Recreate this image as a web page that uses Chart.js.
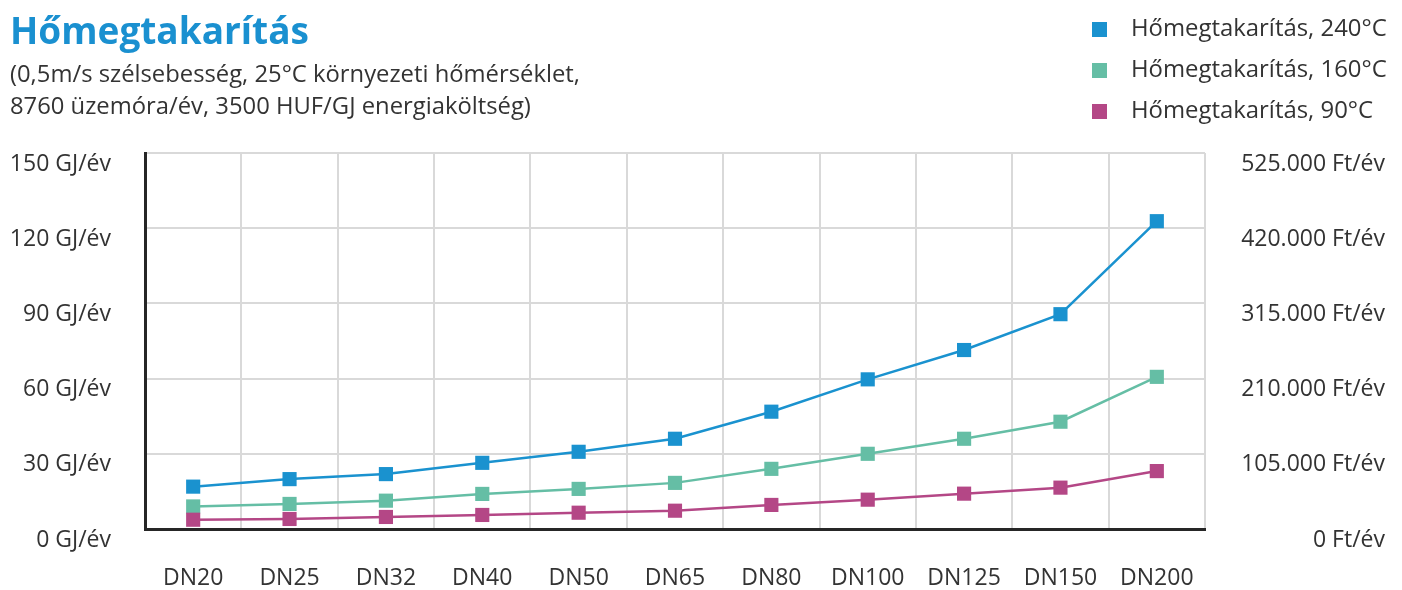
<!DOCTYPE html>
<html>
<head>
<meta charset="utf-8">
<script src="https://cdn.jsdelivr.net/npm/chart.js@4.4.1/dist/chart.umd.min.js"></script>
<style>
  body { margin: 0; background: #fff; font-family: 'Open Sans', sans-serif; color: #333; }
  #wrap { position: relative; width: 1402px; height: 590px; overflow: hidden; }
  #chart-canvas { position: absolute; left: 0; top: 0; }
  .title { position: absolute; left: 10px; top: 8px; font-size: 37px; line-height: 44px; font-weight: 700; color: #1a90d0; }
  .subtitle { position: absolute; left: 10px; top: 57px; font-size: 23.8px; line-height: 32px; color: #333; }
  .legend { position: absolute; left: 1092px; top: 6px; font-size: 23.9px; color: #333; }
  .legend div { height: 41px; line-height: 41px; white-space: nowrap; }
  .legend span { display: inline-block; width: 15px; height: 15px; margin-right: 24px; vertical-align: -1px; }
</style>
</head>
<body>
<div id="wrap">
  <canvas id="chart-canvas"></canvas>
  <div class="title">Hőmegtakarítás</div>
  <div class="subtitle">(0,5m/s szélsebesség, 25°C környezeti hőmérséklet,<br>8760 üzemóra/év, 3500 HUF/GJ energiaköltség)</div>
  <div class="legend" id="legend"></div>
</div>
<script>
// categories (pipe size)
const pipeSizes = ['DN20', 'DN25', 'DN32', 'DN40', 'DN50', 'DN65', 'DN80', 'DN100', 'DN125', 'DN150', 'DN200'];

// heat savings, GJ/év
const saving240 = [16.9, 19.9, 21.9, 26.4, 30.8, 36.0, 46.8, 59.7, 71.4, 85.7, 122.8];
const saving160 = [9.0, 10.0, 11.3, 14.0, 16.0, 18.4, 24.0, 30.0, 36.0, 42.8, 60.7];
const saving90 = [3.7, 4.0, 4.8, 5.6, 6.5, 7.3, 9.6, 11.7, 14.1, 16.5, 23.1];

const seriesLabels = ['Hőmegtakarítás, 240°C', 'Hőmegtakarítás, 160°C', 'Hőmegtakarítás, 90°C'];
const seriesColors = ['#1a92cf', '#65bea5', '#b44786'];

// axis ticks
const gjMax = 150, gjStep = 30;
const ftMax = 525000, ftStep = 105000;

function thousands(v) {
  return String(v).replace(/\B(?=(\d{3})+(?!\d))/g, '.');
}

const legendBox = document.getElementById('legend');
seriesLabels.forEach((label, i) => {
  const row = document.createElement('div');
  row.innerHTML = '<span style="background:' + seriesColors[i] + '"></span>' + label;
  legendBox.appendChild(row);
});

Chart.defaults.font.family = "'Open Sans', sans-serif";
Chart.defaults.font.size = 23;
Chart.defaults.color = '#333';

const canvas = document.getElementById('chart-canvas');
canvas.width = 1402;
canvas.height = 590;

function makeSet(i, data, order) {
  return {
    label: seriesLabels[i],
    data: data,
    yAxisID: 'y',
    borderColor: seriesColors[i],
    backgroundColor: seriesColors[i],
    borderWidth: 2.5,
    pointStyle: 'rect',
    pointRadius: 10,
    pointHoverRadius: 10,
    pointBorderWidth: 0,
    tension: 0,
    order: order,
  };
}

new Chart(canvas, {
  type: 'line',
  data: {
    labels: pipeSizes,
    datasets: [
      makeSet(0, saving240, 3),
      makeSet(1, saving160, 2),
      makeSet(2, saving90, 1),
    ],
  },
  options: {
    responsive: false,
    animation: false,
    layout: { padding: { top: 153, right: 17, bottom: 0, left: 0 } },
    plugins: {
      legend: { display: false },
      tooltip: { enabled: false },
    },
    scales: {
      x: {
        offset: true,
        grid: { offset: true, color: '#d9d9d9', lineWidth: 2, drawTicks: false },
        border: { display: true, color: '#262626', width: 3 },
        ticks: { padding: 36, color: '#333' },
        afterFit: (scale) => { scale.height = 61; },
      },
      y: {
        position: 'left',
        min: 0,
        max: gjMax,
        grid: { color: '#d9d9d9', lineWidth: 2, drawTicks: false },
        border: { display: true, color: '#262626', width: 3 },
        ticks: {
          stepSize: gjStep,
          padding: 34,
          labelOffset: 11,
          callback: (v) => v + ' GJ/év',
        },
        afterFit: (scale) => { scale.width = 145; },
      },
      y1: {
        position: 'right',
        min: 0,
        max: ftMax,
        grid: { display: false, drawTicks: false },
        border: { display: false },
        ticks: {
          stepSize: ftStep,
          crossAlign: 'far',
          labelOffset: 11,
          callback: (v) => thousands(v) + ' Ft/év',
        },
        afterFit: (scale) => { scale.width = 180; },
      },
    },
  },
});
</script>
</body>
</html>
